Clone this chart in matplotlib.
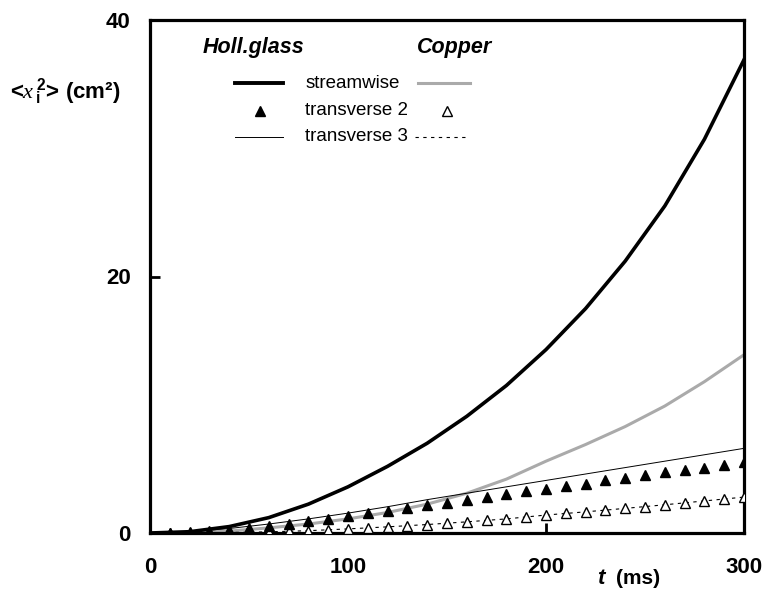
import numpy as np
import matplotlib
matplotlib.use('Agg')
import matplotlib.pyplot as plt

plt.rcParams['font.family'] = ['Liberation Sans', 'DejaVu Sans']
plt.rcParams['mathtext.fontset'] = 'custom'
plt.rcParams['mathtext.rm'] = 'Liberation Sans'
plt.rcParams['mathtext.it'] = 'Liberation Serif:italic'
plt.rcParams['mathtext.bf'] = 'Liberation Sans:bold'

# 连续曲线 (t 每 20 ms)
t_line = [0, 20, 40, 60, 80, 100, 120, 140, 160, 180, 200, 220, 240, 260, 280, 300]
holl_stream = [0, 0.1, 0.5, 1.2, 2.25, 3.6, 5.2, 7.0, 9.1, 11.5, 14.3, 17.5, 21.2, 25.5, 30.7, 36.9]
copper_stream = [0, 0.03, 0.15, 0.4, 0.7, 1.1, 1.6, 2.25, 3.1, 4.2, 5.6, 6.9, 8.3, 9.9, 11.8, 13.9]
holl_trans3 = [0, 0.1, 0.35, 0.7, 1.1, 1.55, 2.05, 2.6, 3.1, 3.6, 4.1, 4.6, 5.1, 5.6, 6.1, 6.6]
copper_trans3 = [0, 0.0, 0.04, 0.09, 0.18, 0.32, 0.48, 0.66, 0.87, 1.1, 1.4, 1.65, 1.92, 2.2, 2.5, 2.8]

# 离散点 (t 每 10 ms)
t_pts = [10, 20, 30, 40, 50, 60, 70, 80, 90, 100, 110, 120, 130, 140, 150,
         160, 170, 180, 190, 200, 210, 220, 230, 240, 250, 260, 270, 280, 290, 300]
holl_trans2 = [0.0, 0.08, 0.15, 0.25, 0.4, 0.55, 0.72, 0.92, 1.1, 1.35, 1.55, 1.75, 1.95, 2.15, 2.35,
               2.55, 2.8, 3.05, 3.25, 3.45, 3.65, 3.85, 4.1, 4.3, 4.55, 4.75, 4.95, 5.1, 5.3, 5.5]
copper_trans2 = [0.0, 0.0, 0.02, 0.04, 0.06, 0.09, 0.13, 0.18, 0.25, 0.32, 0.4, 0.48, 0.57, 0.66, 0.76,
                 0.87, 0.98, 1.1, 1.25, 1.4, 1.53, 1.65, 1.78, 1.92, 2.05, 2.2, 2.35, 2.5, 2.65, 2.8]

x_ticks = [0, 100, 200, 300]
y_ticks = [0, 20, 40]

fig = plt.figure(figsize=(7.63, 5.91), dpi=100)
ax = fig.add_axes([150 / 763, 1 - 533 / 591, 594 / 763, 513 / 591])

ax.plot(t_line, holl_stream, color='black', lw=2.6, zorder=3)
ax.plot(t_line, copper_stream, color='#aaaaaa', lw=2.2, zorder=2)
ax.plot(t_line, holl_trans3, color='black', lw=0.7, zorder=2)
ax.plot(t_line, copper_trans3, color='black', lw=0.8, ls=(0, (3, 4)), zorder=2)
ax.plot(t_pts, copper_trans2, ls='none', marker='^', ms=7.5, mfc='white', mec='black', mew=1.0, zorder=4)
ax.plot(t_pts, holl_trans2, ls='none', marker='^', ms=7.5, mfc='black', mec='black', zorder=5)

ax.set_xlim(0, 300)
ax.set_ylim(0, 40)
ax.set_xticks(x_ticks)
ax.set_yticks(y_ticks)
ax.tick_params(direction='in', length=7, width=2, labelsize=16)
ax.tick_params(axis='x', pad=17)
ax.tick_params(axis='y', pad=14)
for lab in ax.get_xticklabels() + ax.get_yticklabels():
    lab.set_fontweight('bold')
# 只有 200 和 20 有刻度线
for i, tk in enumerate(ax.xaxis.get_major_ticks()):
    if x_ticks[i] != 200:
        tk.tick1line.set_visible(False)
for i, tk in enumerate(ax.yaxis.get_major_ticks()):
    if y_ticks[i] != 20:
        tk.tick1line.set_visible(False)
for sp in ax.spines.values():
    sp.set_linewidth(2.3)

# 图例 (手工排版)
tr = ax.transAxes
ax.text(0.175, 0.947, 'Holl.glass', transform=tr, ha='center', va='center',
        fontsize=15.5, fontweight='bold', fontstyle='italic')
ax.text(0.512, 0.947, 'Copper', transform=tr, ha='center', va='center',
        fontsize=15.5, fontweight='bold', fontstyle='italic')
rows = [0.877, 0.823, 0.772]
names = ['streamwise', 'transverse 2', 'transverse 3']
for y, name in zip(rows, names):
    ax.text(0.261, y, name, transform=tr, ha='left', va='center', fontsize=13.5)
ax.plot([0.143, 0.224], [rows[0]] * 2, transform=tr, color='black', lw=2.8)
ax.plot([0.451, 0.539], [rows[0]] * 2, transform=tr, color='#aaaaaa', lw=2.2)
ax.plot([0.185], [rows[1]], transform=tr, marker='^', ms=7.5, color='black', ls='none')
ax.plot([0.50], [rows[1]], transform=tr, marker='^', ms=7.5, mfc='white', mec='black', mew=1.0, ls='none')
ax.plot([0.143, 0.224], [rows[2]] * 2, transform=tr, color='black', lw=0.7)
ax.plot([0.446, 0.535], [rows[2]] * 2, transform=tr, color='black', lw=0.8, ls=(0, (3, 4)))

# 坐标轴标题
fig.text(0.013, 1 - 92 / 591, '<' + r'$\mathit{x}_{\;\mathbf{i}}^{\;\mathbf{2}}$' + '> (cm²)',
         ha='left', va='center', fontsize=16, fontweight='bold')
fig.text(597 / 763, 1 - 578 / 591, 't', ha='left', va='center', fontsize=16,
         fontweight='bold', fontstyle='italic')
fig.text(616 / 763, 1 - 578 / 591, '(ms)', ha='left', va='center', fontsize=15,
         fontweight='bold')

plt.savefig('out.png', dpi=100)
